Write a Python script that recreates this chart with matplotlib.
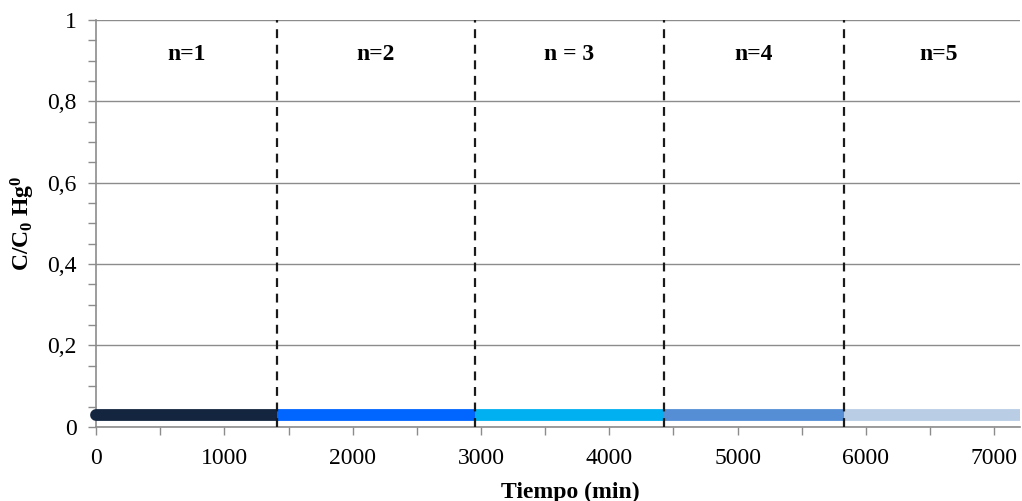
import matplotlib
matplotlib.use("Agg")
import matplotlib.pyplot as plt
from matplotlib.ticker import MultipleLocator, FuncFormatter

# Adsorption cycles: start/end time (min) and normalised Hg0 outlet concentration
cycle_labels = ["n=1", "n=2", "n = 3", "n=4", "n=5"]
cycle_start = [0, 1410, 2950, 4425, 5825]
cycle_end = [1410, 2950, 4425, 5825, 7200]
cycle_conc = [0.03, 0.03, 0.03, 0.03, 0.03]
cycle_colors = ["#13253F", "#0066FF", "#00B0F0", "#558ED5", "#B9CDE5"]
boundaries = [1410, 2950, 4425, 5825]

plt.rcParams["font.family"] = ["Liberation Serif", "DejaVu Serif"]
plt.rcParams["mathtext.fontset"] = "custom"
plt.rcParams["mathtext.rm"] = "Liberation Serif"
plt.rcParams["mathtext.bf"] = "Liberation Serif:bold"
plt.rcParams["mathtext.default"] = "regular"

fig = plt.figure(figsize=(10.22, 5.01), dpi=100)
ax = fig.add_axes([0.094, 0.148, 0.904, 0.812])

for i in range(len(cycle_start)):
    ax.plot([cycle_start[i], cycle_end[i]], [cycle_conc[i], cycle_conc[i]],
            color=cycle_colors[i], lw=8.5,
            solid_capstyle="round" if i == 0 else "butt", zorder=3,
            clip_on=(i != 0))

for b in boundaries:
    ax.axvline(b, color="#1a1a1a", lw=1.6, ls=(0, (4, 3)), zorder=4)

for i, lab in enumerate(cycle_labels):
    xm = (cycle_start[i] + cycle_end[i]) / 2
    if i == len(cycle_labels) - 1:
        xm += 50
    ax.text(xm, 0.915, lab, ha="center", va="center", fontsize=17,
            fontweight="bold")

ax.set_xlim(0, 7200)
ax.set_ylim(0, 1)
ax.xaxis.set_major_locator(MultipleLocator(1000))
ax.xaxis.set_minor_locator(MultipleLocator(500))
ax.yaxis.set_major_locator(MultipleLocator(0.2))
ax.yaxis.set_minor_locator(MultipleLocator(0.05))
ax.yaxis.set_major_formatter(FuncFormatter(
    lambda v, p: "0" if abs(v) < 1e-9 else ("1" if abs(v - 1) < 1e-9 else f"{v:.1f}".replace(".", ","))))

ax.grid(axis="y", which="major", color="#8c8c8c", lw=1.0)
ax.set_axisbelow(True)
for s in ["top", "right"]:
    ax.spines[s].set_visible(False)
for s in ["left", "bottom"]:
    ax.spines[s].set_color("#8c8c8c")
    ax.spines[s].set_linewidth(1.2)

ax.tick_params(axis="both", which="both", direction="out", color="#8c8c8c",
               width=1.0, labelsize=17)
ax.tick_params(axis="both", which="major", length=6)
ax.tick_params(axis="both", which="minor", length=6)
ax.tick_params(axis="y", pad=8)
ax.tick_params(axis="x", pad=9)

ax.set_xlabel("Tiempo (min)", fontsize=17, fontweight="bold")
ax.xaxis.set_label_coords(0.513, -0.135)
ax.set_ylabel(r"C/C$_{0}$ Hg$^{0}$", fontsize=17, fontweight="bold")
ax.yaxis.set_label_coords(-0.064, 0.5)

fig.savefig("out.png", dpi=100)
